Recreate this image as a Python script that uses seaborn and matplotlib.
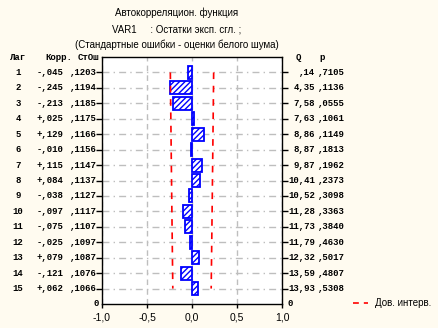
import numpy as np
import pandas as pd
import matplotlib
matplotlib.use("Agg")
import matplotlib.pyplot as plt
import matplotlib.transforms as mtransforms
import seaborn as sns

# Autocorrelation table
lags = list(range(1, 16))
corr = [-0.045, -0.245, -0.213, 0.025, 0.129, -0.010, 0.115, 0.084,
        -0.038, -0.097, -0.075, -0.025, 0.079, -0.121, 0.062]
std_err = [0.1203, 0.1194, 0.1185, 0.1175, 0.1166, 0.1156, 0.1147, 0.1137,
           0.1127, 0.1117, 0.1107, 0.1097, 0.1087, 0.1076, 0.1066]
q_stat = [0.14, 4.35, 7.58, 7.63, 8.86, 8.87, 9.87, 10.41,
          10.52, 11.28, 11.73, 11.79, 12.32, 13.59, 13.93]
p_val = [0.7105, 0.1136, 0.0555, 0.1061, 0.1149, 0.1813, 0.1962, 0.2373,
         0.3098, 0.3363, 0.3840, 0.4630, 0.5017, 0.4807, 0.5308]
x_ticks = [-1.0, -0.5, 0.0, 0.5, 1.0]
x_tick_labels = ["-1,0", "-0,5", "0,0", "0,5", "1,0"]

title_lines = ["Автокорреляцион. функция",
               "VAR1     : Остатки эксп. сгл. ;",
               "(Стандартные ошибки - оценки белого шума)"]

sns.set_theme(style="white")
plt.rcParams["font.family"] = ["Liberation Sans", "DejaVu Sans"]
plt.rcParams["hatch.linewidth"] = 1.0

W, H = 438, 328
BG = "#FFFBF0"
BLUE = "#0000FF"

fig = plt.figure(figsize=(W / 100, H / 100), dpi=100, facecolor=BG)
ax = fig.add_axes([102 / W, 1 - 304 / H, 180 / W, 247 / H])
ax.set_facecolor("white")


def fx(px):
    return px / W


def fy(py):
    return 1 - py / H


# bars
df = pd.DataFrame({"lag": lags, "corr": corr})
sns.barplot(data=df, x="corr", y="lag", orient="y", native_scale=True,
            width=0.85, color="white", saturation=1, edgecolor=BLUE,
            linewidth=1.3, ax=ax, zorder=3)
for bar in ax.patches:
    bar.set_facecolor("white")
    bar.set_edgecolor(BLUE)
    bar.set_hatch("//////")

# confidence limits (+/- 2 standard errors)
ci = 2 * np.array(std_err)
for side in (-1, 1):
    ci_df = pd.DataFrame({"lag": lags, "lim": side * ci})
    sns.lineplot(data=ci_df, x="lim", y="lag", orient="y", sort=False,
                 color="red", linewidth=1.2, linestyle=(0, (4, 4)),
                 ax=ax, zorder=4, legend=False)

ax.set_xlim(-1.0, 1.0)
ax.set_ylim(16, 0)
ax.set_xticks(x_ticks)
ax.set_xticklabels(x_tick_labels, fontsize=7.5)
ax.set_yticks(lags)
ax.set_xlabel("")
ax.set_ylabel("")
ax.set_axisbelow(True)
ax.xaxis.grid(True, color="#BEBEBE", linestyle=(0, (4, 3)), linewidth=1)
ax.yaxis.grid(True, color="#BEBEBE", linestyle=(0, (5, 3, 1, 3)), linewidth=1)
ax.tick_params(axis="y", left=True, right=True, direction="out", length=4,
               width=1, color="black", labelleft=False)
ax.tick_params(axis="x", bottom=True, direction="out", length=3, width=1,
               color="black", pad=3, labelcolor="black")
for s in ax.spines.values():
    s.set_color("black")
    s.set_linewidth(1)

# titles
for text, py in zip(title_lines, [13, 29, 45]):
    fig.text(fx(177), fy(py), text, ha="center", va="center", fontsize=7,
             color="black")

# table columns
mono = dict(family=["Liberation Mono", "DejaVu Sans Mono"], fontweight="bold",
            fontsize=6.5, color="black", va="center")
hy = fy(58)
fig.text(fx(18), hy, "Лаг", ha="center", **mono)
fig.text(fx(45), hy, "Корр.", ha="left", **mono)
fig.text(fx(78), hy, "СтОш", ha="left", **mono)
fig.text(fx(298), hy, "Q", ha="center", **mono)
fig.text(fx(322), hy, "p", ha="center", **mono)

tr = mtransforms.blended_transform_factory(fig.transFigure, ax.transData)


def frac(v, nd):
    s = f"{abs(v):.{nd}f}".replace(".", ",")
    return s[1:] if s.startswith("0") else s


for lag, c, se, q, p in zip(lags, corr, std_err, q_stat, p_val):
    ax.text(fx(18), lag, str(lag), ha="center", transform=tr, **mono)
    ax.text(fx(63), lag, ("-" if c < 0 else "+") + frac(c, 3), ha="right",
            transform=tr, **mono)
    ax.text(fx(97), lag, frac(se, 4), ha="right", transform=tr, **mono)
    ax.text(fx(315), lag, frac(q, 2), ha="right", transform=tr, **mono)
    ax.text(fx(318), lag, frac(p, 4), ha="left", transform=tr, **mono)

ax.text(fx(99), 16, "0", ha="right", transform=tr, **mono)
ax.text(fx(287), 16, "0", ha="left", transform=tr, **mono)

# legend entry for confidence limits
fig.add_artist(plt.Line2D([fx(353), fx(368)], [fy(303), fy(303)],
                          color="red", linewidth=1.2,
                          linestyle=(0, (3.5, 3))))
fig.text(fx(375), fy(303), "Дов. интерв.", ha="left", va="center",
         fontsize=7, color="black")

fig.savefig("out.png", dpi=100, facecolor=BG)
